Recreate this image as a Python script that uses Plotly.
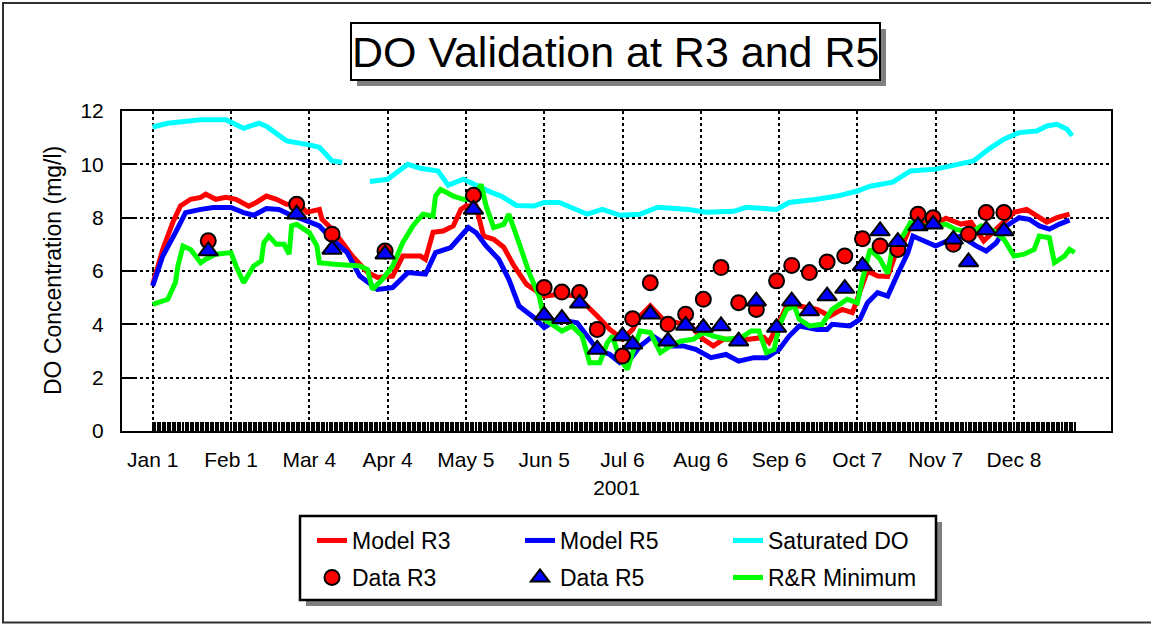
import plotly.graph_objects as go

# ---------------- data (day of year 2001, 0 = Jan 1) ----------------
tick_days = [0, 31, 62, 93, 124, 155, 186, 217, 248, 279, 310, 341]
tick_labels = ["Jan 1", "Feb 1", "Mar 4", "Apr 4", "May 5", "Jun 5", "Jul 6",
               "Aug 6", "Sep 6", "Oct 7", "Nov 7", "Dec 8"]
y_ticks = [0, 2, 4, 6, 8, 10, 12]

sat_day = [0, 6, 19, 29, 36, 42, 45, 53, 62, 66, 71, 75, 80, 86, 93, 101, 106, 113, 117,
           123, 127, 134, 138, 144, 151, 155, 161, 168, 172, 178, 185, 193, 200, 212, 219,
           230, 235, 247, 252, 263, 271, 279, 284, 293, 300, 310, 320, 325, 331, 337, 343,
           350, 354, 358, 362, 364]
sat_do = [11.40, 11.54, 11.67, 11.67, 11.35, 11.54, 11.43, 10.88, 10.73, 10.64, 10.13, 10.08,
          None, 9.36, 9.44, 10.0, 9.85, 9.75, 9.22, 9.44, 9.25, 8.95, 8.81, 8.46, 8.44, 8.57,
          8.57, 8.31, 8.13, 8.31, 8.09, 8.13, 8.39, 8.31, 8.20, 8.24, 8.39, 8.31, 8.57, 8.69,
          8.81, 9.00, 9.18, 9.33, 9.75, 9.82, 10.0, 10.13, 10.57, 10.94, 11.19, 11.25, 11.44,
          11.50, 11.32, 11.07]

r3_day = [0, 4, 8, 11, 15, 19, 21, 25, 29, 33, 38, 41, 45, 49, 53, 58, 61, 66, 67, 71, 75,
          79, 85, 89, 95, 99, 106, 108, 111, 115, 119, 122, 124, 128, 131, 135, 139, 143, 148,
          155, 161, 168, 176, 181, 186, 190, 193, 197, 202, 208, 213, 218, 222, 226, 236, 242,
          244, 248, 251, 256, 263, 268, 273, 277, 283, 287, 291, 294, 297, 300, 305, 310, 314,
          320, 324, 329, 334, 341, 346, 350, 354, 358, 363]
model_r3 = [5.50, 6.81, 7.83, 8.44, 8.69, 8.76, 8.88, 8.69, 8.76, 8.69, 8.43, 8.57, 8.81, 8.69,
            8.50, 8.50, 8.20, 8.31, 7.94, 7.57, 7.08, 6.56, 5.95, 5.76, 5.81, 6.56, 6.56, 6.44,
            7.45, 7.50, 7.69, 8.31, 8.44, 8.44, 7.31, 7.19, 6.89, 6.20, 5.50, 5.06, 5.13, 5.06,
            4.31, 3.81, 3.44, 3.81, 4.31, 4.69, 4.19, 4.07, 3.94, 3.44, 3.19, 3.44, 3.44, 3.51,
            3.32, 4.07, 4.69, 4.69, 4.56, 4.31, 4.56, 4.44, 6.00, 5.81, 5.80, 6.60, 7.00, 7.69,
            7.83, 7.76, 7.98, 7.76, 7.83, 7.13, 7.57, 8.20, 8.31, 8.06, 7.83, 8.00, 8.13]

r5_day = [0, 4, 9, 13, 19, 24, 31, 36, 40, 45, 50, 54, 61, 66, 71, 77, 82, 89, 95, 101, 108,
          112, 118, 122, 125, 128, 132, 137, 141, 145, 151, 155, 158, 164, 168, 172, 176, 181,
          185, 189, 193, 198, 204, 210, 215, 221, 227, 232, 238, 243, 248, 252, 256, 263, 267,
          269, 276, 280, 283, 287, 291, 295, 299, 301, 304, 308, 310, 316, 320, 326, 330, 334,
          338, 343, 347, 351, 355, 359, 363]
model_r5 = [5.44, 6.56, 7.44, 8.19, 8.31, 8.38, 8.38, 8.19, 8.09, 8.34, 8.31, 8.13, 7.88, 7.69,
            7.19, 6.69, 5.81, 5.31, 5.38, 5.94, 5.88, 6.69, 6.88, 7.31, 7.63, 7.44, 6.94, 6.44,
            5.69, 4.69, 4.25, 3.88, 4.06, 4.12, 4.06, 3.56, 3.06, 2.87, 2.56, 2.69, 3.19, 3.56,
            3.19, 3.19, 3.06, 2.75, 2.87, 2.62, 2.75, 2.75, 3.06, 3.56, 3.94, 3.81, 3.81, 4.00,
            3.94, 4.19, 4.81, 5.19, 5.06, 5.90, 6.69, 7.31, 7.19, 7.00, 6.94, 7.19, 7.31, 6.94,
            6.75, 7.06, 7.69, 8.00, 7.94, 7.69, 7.57, 7.76, 7.91]

rr_day = [0, 6, 9, 10, 12, 15, 19, 21, 25, 31, 33, 36, 40, 43, 44, 46, 49, 52, 54, 55, 57, 62,
          65, 66, 72, 78, 82, 85, 87, 91, 95, 99, 103, 107, 111, 112, 114, 119, 123, 127, 130,
          132, 135, 139, 141, 145, 149, 153, 155, 159, 162, 166, 170, 173, 177, 180, 182, 185,
          188, 190, 193, 197, 201, 205, 209, 214, 218, 222, 227, 233, 237, 240, 243, 246, 248,
          251, 254, 256, 260, 265, 269, 275, 279, 281, 284, 288, 291, 293, 297, 300, 304, 309,
          314, 318, 324, 328, 333, 337, 341, 345, 349, 351, 355, 357, 361, 363, 365]
rr_min = [4.75, 4.94, 5.57, 6.19, 6.94, 6.81, 6.31, 6.44, 6.63, 6.69, 6.19, 5.56, 6.19, 6.38,
          7.06, 7.31, 7.00, 7.00, 6.63, 7.69, 7.75, 7.44, 6.94, 6.31, 6.25, 6.19, 6.19, 6.06,
          5.31, 5.69, 6.19, 7.06, 7.69, 8.13, 8.06, 8.81, 9.06, 8.81, 8.69, 8.69, 9.25, 8.44,
          7.63, 7.75, 8.13, 7.06, 5.94, 5.06, 4.19, 3.94, 3.75, 3.94, 3.56, 2.56, 2.56, 3.31,
          3.56, 2.69, 2.31, 2.94, 3.75, 3.69, 2.94, 3.19, 3.37, 3.44, 3.69, 3.56, 3.44, 3.50,
          3.75, 3.75, 2.94, 3.06, 3.94, 4.56, 4.69, 4.19, 3.94, 4.00, 4.56, 4.94, 4.81, 5.69,
          6.81, 6.44, 5.90, 6.94, 7.31, 7.81, 7.69, 7.69, 7.75, 7.56, 7.44, 7.69, 7.50, 7.19,
          6.56, 6.63, 6.81, 7.31, 7.25, 6.31, 6.56, 6.81, 6.69]

obs_day = [22, 57, 71, 92, 127, 155, 162, 169, 176, 186, 190, 197, 204, 211, 218, 225, 232,
           239, 247, 253, 260, 267, 274, 281, 288, 295, 303, 309, 317, 323, 330, 337]
data_r3 = [7.13, 8.50, 7.38, 6.75, 8.84, 5.38, 5.21, 5.19, 3.81, 2.81, 4.21, 5.56, 4.00, 4.38,
           4.94, 6.13, 4.81, 4.56, 5.63, 6.21, 5.94, 6.34, 6.56, 7.21, 6.94, 6.81, 8.13, 8.00,
           7.00, 7.38, 8.19, 8.19]
data_r5 = [6.75, 8.13, 6.81, 6.63, 8.31, 4.34, 4.21, 4.79, 3.06, 3.56, 3.25, 4.38, 3.37, 3.96,
           3.88, 3.94, 3.37, 4.87, 3.88, 4.87, 4.50, 5.06, 5.34, 6.19, 7.50, 7.10, 7.69, 7.75,
           7.19, 6.34, 7.54, 7.50]

# ---------------- layout geometry ----------------
FIG_W, FIG_H = 1151, 624
L, R, T, B = 122, 40, 111, 193
PW, PH = FIG_W - L - R, FIG_H - T - B
FONT = "Liberation Sans, Arial, sans-serif"


def px(x):
    return (x - L) / PW


def py(y):
    return (FIG_H - B - y) / PH


fig = go.Figure()

fig.add_trace(go.Scatter(x=sat_day, y=sat_do, mode="lines", name="Saturated DO",
                         line=dict(color="#00FFFF", width=5), connectgaps=False,
                         legend="legend", legendrank=3))
fig.add_trace(go.Scatter(x=r3_day, y=model_r3, mode="lines", name="Model R3",
                         line=dict(color="#FF0000", width=5), legend="legend", legendrank=1))
fig.add_trace(go.Scatter(x=r5_day, y=model_r5, mode="lines", name="Model R5",
                         line=dict(color="#0000FF", width=5), legend="legend", legendrank=2))
fig.add_trace(go.Scatter(x=rr_day, y=rr_min, mode="lines", name="R&R Minimum",
                         line=dict(color="#00FF00", width=5), legend="legend2", legendrank=3))
fig.add_trace(go.Scatter(x=obs_day, y=data_r3, mode="markers", name="Data R3",
                         marker=dict(symbol="circle", size=15, color="#FF0000",
                                     line=dict(color="black", width=2)),
                         legend="legend2", legendrank=1))
fig.add_trace(go.Scatter(x=obs_day, y=data_r5, mode="markers", name="Data R5",
                         marker=dict(symbol="triangle-up", size=17, color="#0000FF",
                                     line=dict(color="black", width=2)),
                         legend="legend2", legendrank=2))

shapes = [
    # outer frame
    dict(type="rect", xref="paper", yref="paper", x0=px(3), x1=px(1160), y0=py(622.5), y1=py(3),
         line=dict(color="#303030", width=2), fillcolor="rgba(0,0,0,0)", layer="below"),
    # title box shadow + box
    dict(type="rect", xref="paper", yref="paper", x0=px(357), x1=px(886), y0=py(86), y1=py(29),
         line=dict(width=0), fillcolor="#808080"),
    dict(type="rect", xref="paper", yref="paper", x0=px(351), x1=px(880), y0=py(80), y1=py(23),
         line=dict(color="black", width=2), fillcolor="white"),
    # legend box shadow + box
    dict(type="rect", xref="paper", yref="paper", x0=px(306), x1=px(942), y0=py(606), y1=py(522),
         line=dict(width=0), fillcolor="#808080"),
    dict(type="rect", xref="paper", yref="paper", x0=px(300), x1=px(936), y0=py(600), y1=py(516),
         line=dict(color="black", width=2.5), fillcolor="white"),
]

legend_common = dict(orientation="h", xanchor="left", yanchor="top", x=px(312),
                     bgcolor="rgba(0,0,0,0)", borderwidth=0, entrywidth=163,
                     entrywidthmode="pixels", font=dict(family=FONT, size=23, color="black"),
                     itemclick=False, itemdoubleclick=False)

fig.update_layout(
    width=FIG_W, height=FIG_H,
    margin=dict(l=L, r=R, t=T, b=B, pad=0),
    paper_bgcolor="white", plot_bgcolor="white",
    font=dict(family=FONT, color="black"),
    showlegend=True,
    legend=dict(**legend_common, y=py(519)),
    legend2=dict(**legend_common, y=py(556)),
    shapes=shapes,
    annotations=[
        dict(text="DO Validation at R3 and R5", xref="paper", yref="paper",
             x=px(615), y=py(52), xanchor="center", yanchor="middle",
             showarrow=False, font=dict(family=FONT, size=43, color="black")),
        dict(text="DO Concentration (mg/l)", xref="paper", yref="paper",
             x=px(53), y=py(271), xanchor="center", yanchor="middle", textangle=-90,
             showarrow=False, font=dict(family=FONT, size=23, color="black")),
    ],
    xaxis=dict(range=[-12.15, 379.4], tickmode="array", tickvals=tick_days, ticktext=tick_labels,
               ticks="inside", ticklen=9, tickwidth=1, tickcolor="black",
               showgrid=True, gridcolor="black", gridwidth=1.5, griddash="dot",
               showline=True, linecolor="black", linewidth=2, mirror=True,
               zeroline=False, ticklabelstandoff=9,
               tickfont=dict(family=FONT, size=21, color="black"),
               title=dict(text="2001", font=dict(family=FONT, size=21, color="black"), standoff=10),
               minor=dict(tickmode="array", tickvals=list(range(0, 366)), ticks="inside",
                          ticklen=9, tickwidth=1.5, tickcolor="black", showgrid=False)),
    yaxis=dict(range=[0, 12], tickmode="array", tickvals=y_ticks,
               ticks="inside", ticklen=14, tickwidth=2, tickcolor="black",
               showgrid=True, gridcolor="black", gridwidth=1.5, griddash="dot",
               showline=True, linecolor="black", linewidth=2, mirror=True,
               zeroline=False, ticklabelstandoff=12,
               tickfont=dict(family=FONT, size=21, color="black")),
)

fig.write_html("out.html",
               config={"displayModeBar": False},
               post_script="document.body.style.margin='0px';"
                           "document.body.style.overflow='hidden';")
